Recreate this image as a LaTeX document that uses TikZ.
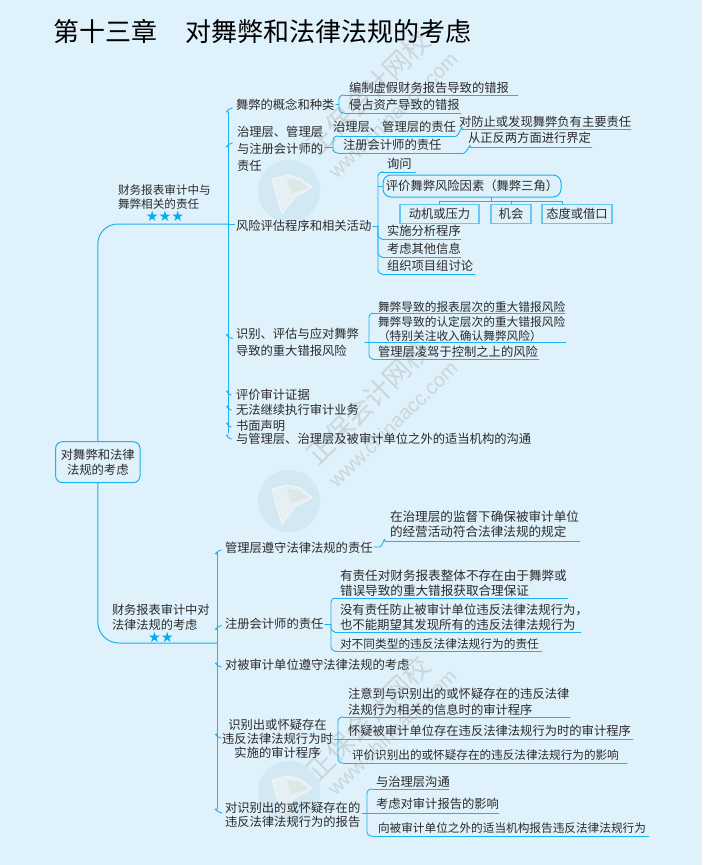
\documentclass[tikz,border=0pt]{standalone}
\usepackage{fontspec}
\setmainfont{Noto Sans CJK SC}
\newfontfamily\symfont{DejaVu Sans}
\newfontfamily\wmfont{Liberation Sans}
\definecolor{bgc}{HTML}{DFF1FB}
\definecolor{lnc}{HTML}{1DB2F0}
\definecolor{ink}{HTML}{2A2A2A}
\definecolor{wmc}{HTML}{C9D6DC}
\definecolor{logoc}{HTML}{D2E8F2}
\definecolor{logoi}{HTML}{E6EFF3}
\definecolor{logof}{HTML}{DDE8E6}
\definecolor{starc}{HTML}{00AEEF}
\tikzset{
  ln/.style={draw=lnc,line width=0.9pt,line cap=round},
  trunk/.style={ln,line width=1pt},
  rc/.style={rounded corners=4pt},
  txt/.style={inner sep=0pt,outer sep=1.5pt,anchor=west,xshift=-1.5pt,yshift=-1pt,text=ink,text height=0.88em,text depth=0.12em,font=\fontsize{12.3}{15}\selectfont},
  small/.style={font=\fontsize{11.7}{15}\selectfont},
  ml/.style={inner sep=0pt,outer sep=1.5pt,anchor=west,xshift=-1.5pt,yshift=-1pt,text=ink,align=left},
  mlc/.style={inner sep=0pt,outer sep=1.5pt,yshift=-1pt,text=ink,align=center},
  rootbox/.style={draw=lnc,line width=1pt,rounded corners=7pt,fill=bgc,text=ink,align=center,minimum width=84.5pt,minimum height=41pt,inner sep=0pt,font=\fontsize{12.3}{15}\selectfont},
  pillbox/.style={draw=lnc,line width=1pt,rounded corners=8pt,text=ink,inner sep=0pt,minimum width=178pt,minimum height=22pt,font=\fontsize{12.3}{15}\selectfont},
  subbox/.style={draw=lnc!70,line width=1.2pt,text=ink,inner sep=0pt,minimum height=19pt,font=\fontsize{12.3}{15}\selectfont},
  stars/.style={inner sep=0pt,text=starc,font=\symfont\fontsize{14.3}{15}\selectfont},
  wm/.style={text=wmc,inner sep=0pt,font=\fontsize{27}{30}\selectfont,rotate=45},
  wmu/.style={text=wmc,inner sep=0pt,font=\wmfont\fontsize{20}{22}\selectfont,rotate=44},
}
\newcommand{\ulin}[4]{\coordinate (#1a) at (#2,#4);\coordinate (#1b) at (#3,#4);\draw[ln] (#1a) -- (#1b);}
% tick that curves down to the trunk (upper half)
\newcommand{\tickto}[4]{\coordinate (#1p) at ([xshift=-#3pt,yshift=-#4pt]#1.west);\draw[ln] (#1p) .. controls +(-2.5,0) and +(-#2+#3,1) .. +(-#2+#3,4);}
% tick that curves up to the trunk (lower half)
\newcommand{\tickup}[4]{\coordinate (#1p) at ([xshift=-#3pt,yshift=-#4pt]#1.west);\draw[ln] (#1p) .. controls +(-2.5,0) and +(-#2+#3,-1) .. +(-#2+#3,-4);}
\newcommand{\logo}[2]{\fill[logoc] (#1,#2) circle[radius=31pt];
  \fill[logoi,draw=white!70!logoi,line width=0.6pt] (#1-17,#2-12) -- (#1-2,#2-16) -- (#1+11,#2-13) -- (#1+23,#2-4) -- (#1+19,#2-1) -- (#1+6,#2+6) -- (#1-7,#2+23) -- (#1-12,#2+7) -- cycle;
  \fill[logof] (#1-2,#2-12) -- (#1+11,#2-10) -- (#1+19,#2-3) -- (#1+2,#2+2) -- cycle;}
\begin{document}
\begin{tikzpicture}[x=1pt,y=-1pt]
\path[use as bounding box,fill=bgc] (0,0) rectangle (702,865);
% watermarks
\logo{289}{191}\logo{289}{501}\logo{289}{792}
\node[wm] (wa) at (368,93) {正保会计网校};
\node[wmu] (wb) at (393,115) {www.chinaacc.com};
\node[wm] (wc) at (368,402) {正保会计网校};
\node[wmu] (wd) at (393,424) {www.chinaacc.com};
\node[wm] (we) at (368,718) {正保会计网校};
\node[wmu] (wf) at (392,732) {www.chinaacc.com};
% title
\node[inner sep=0pt,anchor=west,text=black,font=\fontsize{26}{28}\selectfont] (title) at (53,31.5) {第十三章\hspace{28pt}对舞弊和法律法规的考虑};
% root
\node[rootbox] (root) at (97.8,462.2) {对舞弊和法律\\法规的考虑};
\coordinate (ca) at (228,224);
\coordinate (cb) at (217,643);
\draw[trunk,rounded corners=20pt] (root.north) |- (ca);
\draw[trunk,rounded corners=21pt] (root.south) |- (cb);
% branch A
\node[ml,font=\fontsize{11.6}{14}\selectfont] (a0) at (118,196) {财务报表审计中与\\舞弊相关的责任};
\node[stars] (a0s) at (165,216) {★★★};
\coordinate (atop) at (228,112);
\coordinate (abot) at (228,433);
\draw[trunk] (atop) -- (abot);
\node[txt] (a1) at (236,105) {舞弊的概念和种类};
\node[ml,font=\fontsize{12.3}{16.7}\selectfont] (a2) at (237,148) {治理层、管理层\\与注册会计师的\\责任};
\node[txt] (a3) at (236,226) {风险评估程序和相关活动};
\node[ml,font=\fontsize{12.3}{17}\selectfont] (a4) at (236,341.5) {识别、评估与应对舞弊\\导致的重大错报风险};
\node[txt] (a5) at (236,395) {评价审计证据};
\node[txt] (a6) at (236,410) {无法继续执行审计业务};
\node[txt] (a7) at (236,426) {书面声明};
\node[txt] (a8) at (236,439) {与管理层、治理层及被审计单位之外的适当机构的沟通};
\tickto{a1}{6.5}{2}{2}
\tickto{a2}{7.5}{3}{-6}
\draw[trunk] (a3.west |- ca) -- (ca);
\tickup{a4}{6.5}{2}{-4}
\tickup{a5}{6.5}{3}{-1}
\tickup{a6}{6.5}{3}{-1}
\tickup{a7}{6.5}{3}{0}
\tickup{a8}{6.5}{3}{-1}
% A1
\node[txt] (a11) at (349,88) {编制虚假财务报告导致的错报};
\node[txt] (a12) at (349,105) {侵占资产导致的错报};
\ulin{ua}{344}{518}{95}\ulin{ub}{344}{461}{113}
\coordinate (ma) at (339,104);
\draw[ln,rc] (uaa) -| (ma) |- (uba);
\draw[ln] (a1.east |- ma) -- (ma);
% A2
\node[txt] (a21) at (333,127) {治理层、管理层的责任};
\node[txt] (a22) at (343,145) {注册会计师的责任};
\node[txt] (a23) at (459,122) {对防止或发现舞弊负有主要责任};
\node[txt] (a24) at (468,138) {从正反两方面进行界定};
\ulin{uc}{338}{456}{136}\ulin{ud}{338}{464}{153}
\ulin{ue}{462}{631}{129}\ulin{uf}{470}{592}{147}
\coordinate (mb) at (333,147);
\draw[ln,rc] (uca) -| (mb) |- (uda);
\draw[ln] (a2.east |- mb) -- (mb);
\draw[ln] (ucb) .. controls +(3,0) and +(1,-7) .. (uea);
\draw[ln] (udb) .. controls +(3,0) and +(1,-6) .. (ufa);
% A3
\node[txt] (a31) at (387,164) {询问};
\node[pillbox] (a32) at (472,186) {评价舞弊风险因素（舞弊三角）};
\node[subbox,minimum width=79pt] (s1) at (439.5,213.7) {动机或压力};
\node[subbox,minimum width=40pt] (s2) at (511,213.7) {机会};
\node[subbox,minimum width=70pt] (s3) at (577,213.7) {态度或借口};
\coordinate (ja) at (491,201);
\coordinate (jb) at (562,201);
\draw[ln] (a32.south -| ja) -- (ja);
\draw[ln] (s1.north) |- (jb) -- (s3.north -| jb);
\draw[ln] (s2.north) -- (s2.north |- ja);
\node[txt] (a33) at (387,231) {实施分析程序};
\node[txt] (a34) at (387,249) {考虑其他信息};
\node[txt] (a35) at (387,266) {组织项目组讨论};
\ulin{ug}{381}{416}{172}
\ulin{uh}{382}{461}{239}\ulin{ui}{382}{461}{257}\ulin{uj}{382}{475}{274}
\coordinate (mc) at (378,226);
\draw[ln,rc] (uga) -| (mc) |- (uja);
\draw[ln,rc] (mc) |- (uha);
\draw[ln,rc] (mc) |- (uia);
\draw[ln] (a3.east |- mc) -- (mc);
\draw[ln] (mc |- a32) -- (a32.west);
% A4
\node[txt,small] (a41) at (378,307) {舞弊导致的报表层次的重大错报风险};
\node[ml,font=\fontsize{11.7}{14}\selectfont] (a42) at (378,328) {舞弊导致的认定层次的重大错报风险\\（特别关注收入确认舞弊风险）};
\node[txt] (a43) at (378,352) {管理层凌驾于控制之上的风险};
\ulin{uk}{373}{565}{313}\ulin{ul}{365}{566}{342}\ulin{um}{373}{539}{359}
\coordinate (md) at (369,342);
\draw[ln,rc] (uka) -| (md) |- (uma);
% branch B
\node[ml,font=\fontsize{12.2}{15}\selectfont] (b0) at (112,616.5) {财务报表审计中对\\法律法规的考虑};
\node[stars] (b0s) at (161,637) {★★};
\coordinate (btop) at (217,552);
\coordinate (bbot) at (217,809);
\draw[trunk] (btop) -- (bbot);
\node[txt] (b1) at (225,548) {管理层遵守法律法规的责任};
\node[txt] (b2) at (225,623.5) {注册会计师的责任};
\node[txt] (b3) at (225,665) {对被审计单位遵守法律法规的考虑};
\node[mlc,font=\fontsize{12.3}{14}\selectfont] (b4) at (277.5,738) {识别出或怀疑存在\\违反法律法规行为时\\实施的审计程序};
\node[ml,font=\fontsize{12.3}{14}\selectfont] (b5) at (225,814) {对识别出的或怀疑存在的\\违反法律法规行为的报告};
\tickto{b1}{6.5}{2}{1}
\tickto{b2}{6.5}{2}{1}
\tickup{b3}{6.5}{2}{1}
\coordinate (b4p) at (221,738);
\draw[ln] (b4p) .. controls +(-2.5,0) and +(-4,-1) .. +(-4,-4);
\coordinate (b5p) at (222,813);
\draw[ln] (b5p) .. controls +(-2.5,0) and +(-5,-1) .. +(-5,-4);
% B1
\node[ml,font=\fontsize{12.6}{15}\selectfont] (b11) at (390,523.5) {在治理层的监督下确保被审计单位\\的经营活动符合法律法规的规定};
\ulin{un}{385}{580}{541}
\coordinate (me) at (380,547);
\draw[ln] (b1.east |- me) -- (me) .. controls +(2,0) and +(0,-6) .. (una);
% B2
\node[ml,font=\fontsize{12.6}{15}\selectfont] (b21) at (340,582.5) {有责任对财务报表整体不存在由于舞弊或\\错误导致的重大错报获取合理保证};
\node[ml,font=\fontsize{12.4}{15}\selectfont] (b22) at (340,616.5) {没有责任防止被审计单位违反法律法规行为，\\也不能期望其发现所有的违反法律法规行为};
\node[txt,small] (b23) at (340,644) {对不同类型的违反法律法规行为的责任};
\ulin{uo}{335}{568}{598}\ulin{up}{335}{581}{632}\ulin{uq}{335}{542}{651}
\coordinate (mf) at (331,624);
\draw[ln,rc] (uoa) -| (mf) |- (uqa);
\draw[ln,rc] (mf) |- (upa);
\draw[ln] (b2.east |- mf) -- (mf);
% B4
\node[ml,font=\fontsize{12.3}{15.5}\selectfont] (b41) at (348,701) {注意到与识别出的或怀疑存在的违反法律\\法规行为相关的信息时的审计程序};
\node[txt] (b42) at (348,731) {怀疑被审计单位存在违反法律法规行为时的审计程序};
\node[txt,font=\fontsize{11.6}{15}\selectfont] (b43) at (352,755) {评价识别出的或怀疑存在的违反法律法规行为的影响};
\ulin{ur}{343}{570}{717}\ulin{us}{334}{633}{739}\ulin{ut}{343}{627}{763}
\coordinate (mg) at (338,739);
\draw[ln,rc] (ura) -| (mg) |- (uta);
% B5
\node[txt] (b51) at (376,782) {与治理层沟通};
\node[txt] (b52) at (376,804) {考虑对审计报告的影响};
\node[txt,font=\fontsize{11.65}{15}\selectfont] (b53) at (378,828) {向被审计单位之外的适当机构报告违反法律法规行为};
\ulin{uu}{372}{449}{789}\ulin{uv}{362}{499}{813}\ulin{uw}{372}{649}{836}
\coordinate (mh) at (367,813);
\draw[ln,rc] (uua) -| (mh) |- (uwa);
\end{tikzpicture}
\end{document}
